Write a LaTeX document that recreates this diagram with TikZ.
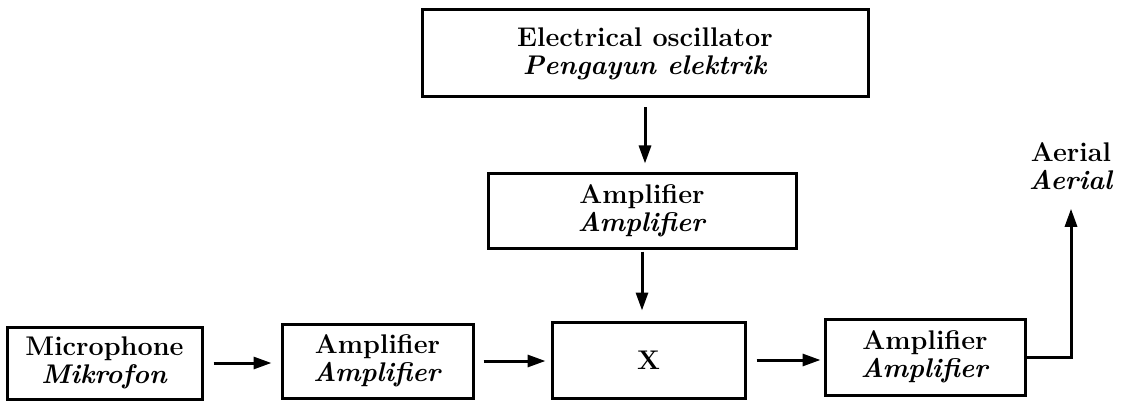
\documentclass[tikz,border=0pt]{standalone}
\usepackage{tikz}
\usetikzlibrary{arrows.meta}
\newcommand{\BlockFont}{\fontsize{27}{28}\selectfont\bfseries}
\tikzstyle{BoxBlock}=[draw=black,line width=3pt,inner sep=0pt,align=center,font=\BlockFont]
\tikzstyle{LabelBlock}=[inner sep=0pt,align=center,font=\BlockFont]
\tikzstyle{EdgeBlock}=[black,line width=3pt]
\tikzstyle{ArcBlock}=[EdgeBlock,-{Triangle[length=18pt,width=12pt]}]

\begin{document}
\begin{tikzpicture}[x=1pt,y=-1pt]
        \useasboundingbox (0,0) rectangle (1124,401);
        \node[BoxBlock,minimum width=446pt,minimum height=87pt](osc)at(645,53.5){Electrical oscillator\\\textit{Pengayun elektrik}};
        \node[BoxBlock,minimum width=308pt,minimum height=75pt](ampT)at(642,210.5){Amplifier\\\textit{Amplifier}};
        \node[BoxBlock,minimum width=195pt,minimum height=72pt](mic)at(104.5,363){Microphone\\\textit{Mikrofon}};
        \node[BoxBlock,minimum width=191pt,minimum height=74pt](ampL)at(377.5,361){Amplifier\\\textit{Amplifier}};
        \node[BoxBlock,minimum width=193pt,minimum height=76pt](x)at(648.5,360){X};
        \node[BoxBlock,minimum width=200pt,minimum height=76pt](ampR)at(925,357){Amplifier\\\textit{Amplifier}};
        \node[LabelBlock](aer)at(1071,166){Aerial\\\textit{Aerial}};
        \draw[ArcBlock,shorten <=9pt,shorten >=8pt](osc.south)--(osc.south |- ampT.north);
        \draw[ArcBlock,shorten <=2pt,shorten >=10pt](ampT.south)--(ampT.south |- x.north);
        \draw[ArcBlock,shorten <=10pt,shorten >=9pt](mic.east)--(mic.east -| ampL.west);
        \draw[ArcBlock,shorten <=9pt,shorten >=5pt](ampL.east)--(ampL.east -| x.west);
        \draw[ArcBlock,shorten <=10pt,shorten >=3pt](x.east)--(x.east -| ampR.west);
        \draw[ArcBlock,shorten >=19pt](ampR.east)-|(aer.south);
    \end{tikzpicture}
\end{document}
